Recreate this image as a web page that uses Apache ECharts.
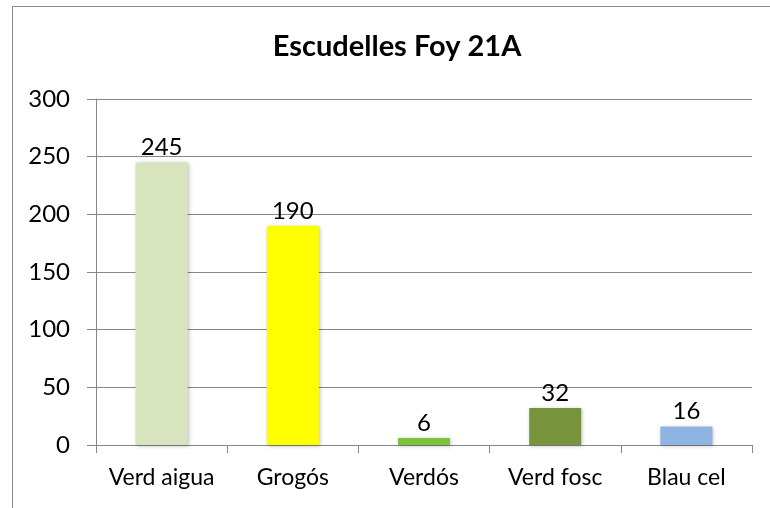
<!DOCTYPE html>
<html>
<head>
<meta charset="utf-8">
<script src="https://cdn.jsdelivr.net/npm/echarts@6/dist/echarts.min.js"></script>
<style>
  html, body { margin: 0; padding: 0; background: #fff; }
  #chart { width: 770px; height: 508px; }
</style>
</head>
<body>
<div id="chart"></div>
<script>
// chart data
const categories = ["Verd aigua", "Grogós", "Verdós", "Verd fosc", "Blau cel"];
const values = [245, 190, 6, 32, 16];
const barColors = ["#D7E4BD", "#FFFF00", "#7DC23B", "#77933C", "#8DB4E2"];
const yTicks = [0, 50, 100, 150, 200, 250, 300];

const font = "Lato, Calibri, Carlito, sans-serif";
const grey = "#868686";

const chart = echarts.init(document.getElementById("chart"), null, { renderer: "canvas" });

chart.setOption({
  animation: false,
  backgroundColor: "#fff",
  title: {
    text: "Escudelles Foy 21A",
    left: 397,
    textAlign: "center",
    top: 29,
    padding: 0,
    textStyle: { fontFamily: font, fontWeight: "bold", fontSize: 29, color: "#000", lineHeight: 36 }
  },
  // outer chart border (cut off at right and bottom in the reference)
  graphic: [{
    type: "rect",
    shape: { x: 12.5, y: 6.5, width: 900, height: 700 },
    style: { fill: "none", stroke: "#898989", lineWidth: 1 },
    silent: true
  }],
  grid: { left: 96, right: 18, top: 99, bottom: 63 },
  xAxis: {
    type: "category",
    data: categories,
    axisLine: { lineStyle: { color: grey, width: 1 } },
    axisTick: { show: true, length: 8, alignWithLabel: false, lineStyle: { color: grey } },
    axisLabel: { interval: 0, fontFamily: font, fontSize: 23, color: "#000", margin: 21 },
    splitLine: { show: false }
  },
  yAxis: {
    type: "value",
    min: yTicks[0],
    max: yTicks[yTicks.length - 1],
    interval: 50,
    axisLine: { show: true, lineStyle: { color: grey, width: 1 } },
    axisTick: { show: true, length: 9, lineStyle: { color: grey } },
    axisLabel: { fontFamily: font, fontSize: 24, color: "#000", margin: 26 },
    splitLine: { show: true, lineStyle: { color: grey, width: 1 } }
  },
  series: [{
    type: "bar",
    barWidth: 52,
    data: values.map((v, i) => ({
      value: v,
      itemStyle: { color: barColors[i] }
    })),
    itemStyle: {
      shadowBlur: 4,
      shadowColor: "rgba(0,0,0,0.25)",
      shadowOffsetX: 1,
      shadowOffsetY: 1
    },
    label: {
      show: true,
      position: "top",
      distance: 3,
      fontFamily: font,
      fontSize: 24,
      color: "#000"
    }
  }]
});
</script>
</body>
</html>
